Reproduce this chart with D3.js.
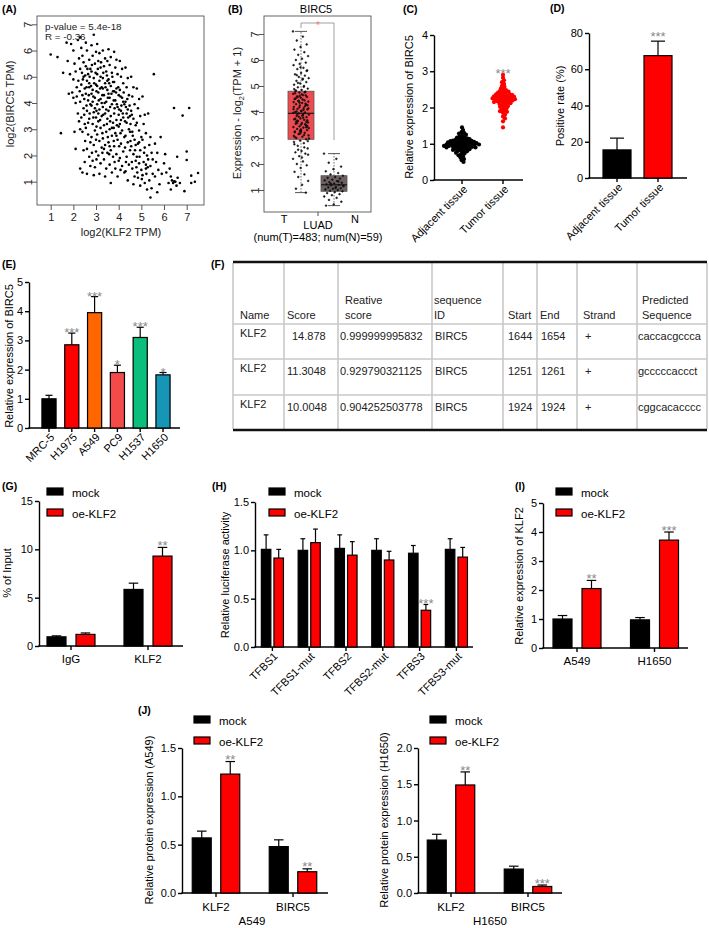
<!DOCTYPE html>
<html>
<head>
<meta charset="utf-8">
<script src="https://cdn.jsdelivr.net/npm/d3@7"></script>
<style>
  body { margin: 0; background: #fff; }
  svg text { font-family: Arial, "Liberation Sans", Helvetica, sans-serif; }
</style>
</head>
<body>
<svg id="fig" width="709" height="928"></svg>
<script>
// ================================
// data
// ================================

// (A) log2(KLF2 TPM) vs log2(BIRC5 TPM)
const aPoints = [
  [1.0,5.85],[1.3,5.75],[1.45,2.85],[1.55,5.15],[1.7,6.3],[1.75,5.6],[1.85,5.1],[1.9,6.25],[1.95,4.4],[1.8,4.35],
  [2.0,6.0],[2.05,5.5],[2.1,5.2],[2.0,4.9],[2.15,4.6],[2.1,4.0],[2.2,3.6],[2.05,2.9],[2.1,2.25],[2.2,6.4],[2.25,5.7],[2.15,4.25],[2.3,1.5],[2.25,3.3],[2.0,4.2],
  [2.3,6.5],[2.35,6.1],[2.4,5.8],[2.3,5.3],[2.45,5.0],[2.35,4.7],[2.4,4.3],[2.3,4.05],[2.45,3.8],[2.35,3.45],[2.5,3.2],[2.4,2.9],[2.45,2.2],[2.5,1.75],[2.4,1.35],[2.5,4.55],[2.45,5.55],[2.3,3.0],
  [2.55,6.3],[2.6,6.0],[2.7,5.65],[2.55,5.4],[2.65,5.1],[2.6,4.85],[2.7,4.6],[2.55,4.35],[2.65,4.1],[2.75,3.95],[2.6,3.7],[2.7,3.4],[2.55,3.05],[2.65,2.8],[2.75,2.5],[2.6,2.25],[2.7,1.95],[2.75,1.6],[2.6,1.3],[2.7,4.75],[2.75,5.3],[2.65,3.25],[2.8,4.35],
  [2.8,6.2],[2.9,6.6],[2.85,5.8],[2.95,5.5],[2.8,5.2],[2.9,4.95],[3.0,4.7],[2.85,4.5],[2.95,4.2],[2.8,3.9],[2.9,3.65],[3.0,3.45],[2.85,3.2],[2.95,2.95],[2.8,2.7],[2.9,2.4],[3.0,2.15],[2.85,1.8],[2.95,1.55],[2.9,1.25],[3.0,5.95],[2.95,3.8],[2.85,4.05],[3.0,2.6],
  [3.05,6.25],[3.15,5.9],[3.1,5.6],[3.2,5.35],[3.05,5.1],[3.15,4.85],[3.25,4.6],[3.1,4.4],[3.2,4.15],[3.05,3.95],[3.15,3.75],[3.25,3.5],[3.1,3.3],[3.2,3.05],[3.05,2.8],[3.15,2.55],[3.25,2.3],[3.1,2.0],[3.2,1.7],[3.15,1.3],[3.25,4.0],[3.05,4.65],[3.2,5.0],[3.1,3.6],
  [3.3,6.0],[3.4,5.7],[3.35,5.4],[3.45,5.2],[3.3,4.95],[3.4,4.75],[3.5,4.5],[3.35,4.3],[3.45,4.05],[3.3,3.85],[3.4,3.6],[3.5,3.4],[3.35,3.15],[3.45,2.9],[3.3,2.65],[3.4,2.4],[3.5,2.1],[3.35,1.85],[3.45,1.5],[3.4,1.2],[3.5,4.85],[3.3,4.55],[3.45,3.75],[3.35,2.25],[3.5,5.6],
  [3.55,6.05],[3.65,5.75],[3.6,5.45],[3.7,5.15],[3.55,4.9],[3.65,4.65],[3.75,4.45],[3.6,4.2],[3.7,3.95],[3.55,3.7],[3.65,3.5],[3.75,3.25],[3.6,3.0],[3.7,2.75],[3.55,2.5],[3.65,2.2],[3.75,1.95],[3.6,1.65],[3.7,1.35],[3.65,0.95],[3.75,4.8],[3.55,4.35],[3.7,3.05],[3.6,2.35],
  [3.8,5.95],[3.9,5.65],[3.85,5.35],[3.95,5.1],[3.8,4.8],[3.9,4.55],[4.0,4.3],[3.85,4.1],[3.95,3.85],[3.8,3.6],[3.9,3.35],[4.0,3.1],[3.85,2.85],[3.95,2.6],[3.8,2.35],[3.9,2.05],[4.0,1.8],[3.85,1.5],[3.95,1.2],[3.8,4.45],[4.0,3.55],[3.9,2.75],
  [4.05,5.6],[4.15,5.3],[4.1,5.0],[4.2,4.75],[4.05,4.5],[4.15,4.2],[4.25,3.95],[4.1,3.7],[4.2,3.45],[4.05,3.2],[4.15,2.95],[4.25,2.7],[4.1,2.45],[4.2,2.15],[4.05,1.9],[4.15,1.6],[4.25,1.35],[4.1,3.35],[4.2,4.05],
  [4.3,5.35],[4.4,4.95],[4.35,4.6],[4.45,4.3],[4.3,4.05],[4.4,3.75],[4.5,3.5],[4.35,3.25],[4.45,3.0],[4.3,2.75],[4.4,2.5],[4.5,2.2],[4.35,1.95],[4.45,1.65],[4.3,1.4],[4.4,1.05],[4.5,2.9],[4.35,3.6],
  [4.55,5.0],[4.65,4.6],[4.6,4.25],[4.7,3.95],[4.55,3.7],[4.65,3.4],[4.75,3.15],[4.6,2.9],[4.7,2.6],[4.55,2.35],[4.65,2.05],[4.75,1.8],[4.6,1.5],[4.7,1.2],[4.65,0.9],[4.75,2.4],
  [4.8,4.55],[4.9,4.15],[4.85,3.8],[4.95,3.5],[4.8,3.25],[4.9,2.95],[5.0,2.7],[4.85,2.45],[4.95,2.2],[4.8,1.95],[4.9,1.7],[5.0,1.45],[4.85,1.15],[4.95,0.85],[4.9,2.5],
  [5.05,4.25],[5.15,3.55],[5.1,3.2],[5.2,2.85],[5.05,2.6],[5.15,2.3],[5.25,2.0],[5.1,1.75],[5.2,1.5],[5.05,1.25],[5.15,0.95],[5.25,0.7],[5.2,1.65],
  [5.3,3.6],[5.4,2.7],[5.35,2.4],[5.45,2.1],[5.3,1.85],[5.4,1.6],[5.5,1.3],[5.35,1.05],[5.45,0.75],[5.4,0.4],[5.5,1.85],
  [5.55,5.1],[5.6,2.45],[5.7,2.1],[5.65,1.75],[5.75,1.45],[5.6,1.2],[5.8,0.9],[5.7,0.6],[5.9,1.3],[5.85,2.7],[6.0,1.7],
  [6.05,2.05],[6.1,1.35],[6.2,0.95],[6.25,1.5],[6.44,3.81],[7.11,3.81],[6.82,3.52],[6.58,1.95],[7.0,2.15],[7.0,1.83],
  [6.3,1.2],[6.35,1.05],[6.4,0.95],[6.45,1.02],[6.5,1.0],[6.55,0.85],[6.7,0.95],[6.3,0.7],[6.9,0.64],[7.2,0.95],[7.36,1.0],[7.5,1.33],[7.2,1.23],[6.6,1.15],
  // denser core
  [2.22,4.85],[2.28,4.45],[2.38,5.15],[2.42,4.9],[2.48,4.15],[2.52,5.05],[2.58,4.6],[2.62,5.3],[2.68,4.3],[2.72,5.0],[2.78,4.65],[2.82,5.45],
  [2.88,4.25],[2.92,4.75],[2.98,5.15],[3.02,4.45],[3.08,5.3],[3.12,4.1],[3.18,4.55],[3.22,5.55],[3.28,4.3],[3.32,5.15],[3.38,4.0],[3.42,4.6],
  [3.48,5.05],[3.52,4.2],[3.58,4.75],[3.62,3.85],[3.68,4.35],[3.72,5.0],[3.78,4.1],[3.82,3.8],[3.88,4.4],[3.92,3.95],[3.98,4.6],[4.02,3.75],
  [4.08,4.25],[4.12,3.9],[4.18,3.6],[4.22,4.4],[4.28,3.3],[4.32,3.85],[4.38,4.15],[4.42,3.45],[4.48,3.9],[4.52,3.2],[4.58,3.55],[4.62,2.75],
  [2.48,3.55],[2.58,3.9],[2.72,3.6],[2.88,3.45],[3.02,3.7],[3.18,3.35],[3.32,3.55],[3.48,3.2],[3.62,3.3],[3.78,3.05],[3.92,3.15],[4.08,2.85],
  [3.02,3.1],[3.28,2.85],[3.52,2.7],[3.78,2.55],[4.02,2.35],[4.28,2.3],[4.52,2.55],[4.72,2.2],[4.92,1.95],[5.12,2.1],[5.28,1.55],[4.82,1.35],
  [3.58,2.05],[3.82,1.75],[4.08,1.45],[4.32,1.75],[4.58,1.75],[4.78,1.55],[5.02,1.1],[5.22,1.3],[3.28,2.1],[3.02,1.85],[2.82,2.1],[2.52,2.55]
];

// (B) GEPIA box plot: T (n=483) and N (n=59)
const bGroups = ["T", "N"];
const bBoxes = { T: [0.9, 2.95, 3.95, 4.8, 7.1], N: [0.4, 0.95, 1.2, 1.55, 2.4] }; // min, q1, median, q3, max
const bDotsT = [7.1,6.9,6.75,6.6,6.5,6.4,6.3,6.2,6.15,6.05,6.0,5.9,5.85,5.8,5.7,5.65,5.6,5.5,5.45,5.4,5.35,5.3,5.25,5.2,5.15,5.1,5.05,5.0,4.95,4.9,
  4.85,4.8,4.78,4.75,4.7,4.65,4.6,4.58,4.55,4.5,4.45,4.42,4.4,4.35,4.3,4.28,4.25,4.2,4.15,4.12,4.1,4.05,4.0,3.98,3.95,3.9,3.88,3.85,3.8,3.75,
  3.72,3.7,3.65,3.6,3.58,3.55,3.5,3.45,3.42,3.4,3.35,3.3,3.28,3.25,3.2,3.15,3.1,3.05,3.0,2.95,2.9,2.85,2.8,2.7,2.6,2.5,2.45,2.4,2.3,2.2,
  2.1,2.0,1.95,1.85,1.7,1.6,1.5,1.35,1.2,1.05,0.9,4.62,4.38,4.08,3.92,3.68,3.52,4.72,4.22,3.82,3.38,4.48,4.02,3.62,3.18,4.88,3.12,5.12,2.88,
  4.68,4.52,4.32,4.18,3.97,3.78,3.57,3.47,3.33,3.22,4.76,4.43,4.14,3.86,3.63,3.41,3.27,3.08,4.97,4.57,4.26,4.03,3.74,3.53,3.16,2.98,
  5.28,5.42,5.58,5.72,2.76,2.64,2.55,2.36,2.25,4.83,4.64,4.36,4.11,3.93,3.67,3.44,3.24,3.03];
const bDotsN = [2.4,2.2,2.05,1.9,1.8,1.72,1.65,1.6,1.55,1.5,1.47,1.44,1.4,1.37,1.34,1.3,1.28,1.25,1.22,1.2,1.18,1.15,1.12,1.1,1.07,1.05,1.02,1.0,
  0.97,0.95,0.92,0.88,0.84,0.8,0.75,0.7,0.62,0.55,0.45,0.4,1.33,1.24,1.16,1.08];

// (C) relative expression of BIRC5, tissues
const cCats = ["Adjacent tissue", "Tumor tissue"];
const cAdjacent = [1.45,1.38,1.32,1.3,1.28,1.25,1.22,1.2,1.18,1.17,1.15,1.14,1.12,1.11,1.1,1.09,1.08,1.07,1.06,1.05,1.05,1.04,1.03,1.02,1.02,
  1.01,1.0,1.0,0.99,0.99,0.98,0.97,0.97,0.96,0.95,0.95,0.94,0.93,0.92,0.92,0.91,0.9,0.89,0.88,0.87,0.86,0.85,0.84,0.83,0.82,0.8,0.79,0.77,
  0.75,0.73,0.7,0.68,0.65,0.62,0.58,0.55,0.5,1.13,1.07,1.03,0.98,0.94,0.9];
const cTumor = [2.9,2.82,2.75,2.7,2.65,2.6,2.57,2.53,2.5,2.48,2.46,2.44,2.42,2.4,2.38,2.37,2.35,2.34,2.32,2.31,2.3,2.29,2.28,2.27,2.26,2.25,
  2.24,2.23,2.22,2.21,2.2,2.19,2.18,2.17,2.16,2.15,2.13,2.12,2.1,2.08,2.06,2.04,2.02,2.0,1.98,1.95,1.92,1.9,1.88,1.85,1.8,1.75,1.7,1.62,1.45,
  2.33,2.27,2.22,2.14,2.36,2.41];

// (D) positive rate
const dCats = ["Adjacent tissue", "Tumor tissue"];
const dValues = [15.5, 67.5];
const dErrors = [6.5, 8];
const dStars = ["", "***"];

// (E) cell lines
const eCats = ["MRC-5", "H1975", "A549", "PC9", "H1537", "H1650"];
const eValues = [1.0, 2.85, 3.95, 1.9, 3.1, 1.82];
const eErrors = [0.12, 0.4, 0.55, 0.25, 0.35, 0.08];
const eStars = ["", "***", "***", "*", "***", "*"];
const eColors = ["#000000", "#ff0000", "#ff6600", "#f44a4a", "#0abf7b", "#1795b6"];

// (F) predicted binding sites
const fHeader = [["Name"], ["Score"], ["Reative", "score"], ["sequence", "ID"], ["Start"], ["End"], ["Strand"], ["Predicted", "Sequence"]];
const fRows = [
  ["KLF2", "14.878", "0.999999995832", "BIRC5", "1644", "1654", "+", "caccacgccca"],
  ["KLF2", "11.3048", "0.929790321125", "BIRC5", "1251", "1261", "+", "gcccccaccct"],
  ["KLF2", "10.0048", "0.904252503778", "BIRC5", "1924", "1924", "+", "cggcacacccc"]
];

// shared legend
const seriesNames = ["mock", "oe-KLF2"];

// (G) ChIP
const gGroups = ["IgG", "KLF2"];
const gMock = [0.95, 5.85], gMockErr = [0.1, 0.65];
const gOe = [1.2, 9.3], gOeErr = [0.15, 0.9];
const gOeStars = ["", "**"];

// (H) luciferase
const hGroups = ["TFBS1", "TFBS1-mut", "TFBS2", "TFBS2-mut", "TFBS3", "TFBS3-mut"];
const hMock = [1.01, 1.0, 1.02, 1.0, 0.97, 1.01], hMockErr = [0.15, 0.12, 0.14, 0.12, 0.08, 0.11];
const hOe = [0.92, 1.08, 0.95, 0.9, 0.38, 0.93], hOeErr = [0.09, 0.14, 0.14, 0.09, 0.06, 0.1];
const hOeStars = ["", "", "", "", "***", ""];

// (I) KLF2 expression
const iGroups = ["A549", "H1650"];
const iMock = [1.0, 0.97], iMockErr = [0.12, 0.08];
const iOe = [2.05, 3.72], iOeErr = [0.28, 0.28];
const iOeStars = ["**", "***"];

// (J) protein expression
const jGroups = ["KLF2", "BIRC5"];
const jA549Mock = [0.57, 0.48], jA549MockErr = [0.07, 0.07];
const jA549Oe = [1.23, 0.22], jA549OeErr = [0.13, 0.03];
const jA549Stars = ["**", "**"];
const jH1650Mock = [0.73, 0.33], jH1650MockErr = [0.08, 0.04];
const jH1650Oe = [1.49, 0.09], jH1650OeErr = [0.18, 0.02];
const jH1650Stars = ["**", "***"];

// ================================
// helpers
// ================================
const svg = d3.select("#fig");
svg.append("rect").attr("width", 709).attr("height", 928).attr("fill", "#fff");

const STAR = "#8a8a8a";
const FS = 11;

function panelLabel(t, x, y) {
  svg.append("text").attr("x", x).attr("y", y).attr("font-size", 10.5)
    .attr("font-weight", "bold").text(t);
}

function yTitle(t, x, y, size) {
  return svg.append("text").attr("transform", `translate(${x},${y}) rotate(-90)`)
    .attr("text-anchor", "middle").attr("font-size", size || FS).text(t);
}

// Prism-like y axis + baseline
function prismAxes(yS, x0, x1, ticks, fmt) {
  const g = svg.append("g");
  const ax = g.append("g").attr("transform", `translate(${x0},0)`)
    .call(d3.axisLeft(yS).tickValues(ticks).tickFormat(fmt).tickSize(4).tickSizeOuter(0));
  ax.select(".domain").attr("stroke", "#000").attr("stroke-width", 1.4);
  ax.selectAll(".tick line").attr("stroke", "#000").attr("stroke-width", 1.4);
  ax.selectAll(".tick text").attr("font-size", FS).attr("fill", "#000").attr("x", -6);
  g.append("line").attr("x1", x0 - 0.7).attr("x2", x1).attr("y1", yS(0)).attr("y2", yS(0))
    .attr("stroke", "#000").attr("stroke-width", 1.4);
  return g;
}

function xTicks(xs, y0) {
  svg.append("g").selectAll("line").data(xs).join("line")
    .attr("x1", d => d).attr("x2", d => d).attr("y1", y0).attr("y2", y0 + 4)
    .attr("stroke", "#000").attr("stroke-width", 1.4);
}

function rotLabels(cats, xf, y0) {
  svg.append("g").selectAll("text").data(cats).join("text")
    .attr("transform", d => `translate(${xf(d) + 6},${y0 + 10}) rotate(-45)`)
    .attr("text-anchor", "end").attr("font-size", FS).text(d => d);
}

// bars: {x, w, v, e, fill, star}
function bars(items, yS, starGap) {
  const g = svg.append("g");
  const gap = starGap === undefined ? 3 : starGap;
  g.selectAll("line.err").data(items).join("line").attr("class", "err")
    .attr("x1", d => d.x).attr("x2", d => d.x)
    .attr("y1", d => yS(d.v)).attr("y2", d => yS(d.v + d.e))
    .attr("stroke", "#000").attr("stroke-width", 1.2);
  g.selectAll("line.cap").data(items).join("line").attr("class", "cap")
    .attr("x1", d => d.x - d.w / 4).attr("x2", d => d.x + d.w / 4)
    .attr("y1", d => yS(d.v + d.e)).attr("y2", d => yS(d.v + d.e))
    .attr("stroke", "#000").attr("stroke-width", 1.2);
  g.selectAll("rect").data(items).join("rect")
    .attr("x", d => d.x - d.w / 2).attr("width", d => d.w)
    .attr("y", d => yS(d.v)).attr("height", d => yS(0) - yS(d.v))
    .attr("fill", d => d.fill).attr("stroke", "#000").attr("stroke-width", 1.2);
  g.selectAll("text").data(items.filter(d => d.star)).join("text")
    .attr("x", d => d.x).attr("y", d => yS(d.v + d.e) - gap + 5.9)
    .attr("text-anchor", "middle").attr("font-size", 13).attr("fill", STAR)
    .text(d => d.star);
}

function legend(x, y) {
  const g = svg.append("g").attr("transform", `translate(${x},${y})`);
  g.selectAll("rect").data(seriesNames).join("rect")
    .attr("x", 0).attr("y", (d, i) => i * 21).attr("width", 16).attr("height", 7)
    .attr("fill", (d, i) => i ? "#ff0000" : "#000").attr("stroke", "#000").attr("stroke-width", 1.2);
  g.selectAll("text").data(seriesNames).join("text")
    .attr("x", 25).attr("y", (d, i) => i * 21 + 8.5).attr("font-size", 11.5).text(d => d);
}

// grouped mock / oe-KLF2 chart
function grouped(cfg) {
  const xG = d3.scalePoint().domain(cfg.groups).range(cfg.range);
  const sub = d3.scaleBand().domain(seriesNames).range([-cfg.gap, cfg.gap])
    .paddingInner(1 - cfg.barW / cfg.gap).paddingOuter((1 - cfg.barW / cfg.gap) / 2);
  const items = [];
  cfg.groups.forEach((gname, i) => {
    items.push({ x: xG(gname) + sub("mock") + sub.bandwidth() / 2, w: cfg.barW, v: cfg.mock[i], e: cfg.mockErr[i], fill: "#000", star: "" });
    items.push({ x: xG(gname) + sub("oe-KLF2") + sub.bandwidth() / 2, w: cfg.barW, v: cfg.oe[i], e: cfg.oeErr[i], fill: "#ff0000", star: cfg.stars[i] });
  });
  prismAxes(cfg.y, cfg.x0, cfg.x1, cfg.ticks, cfg.fmt);
  xTicks(cfg.groups.map(xG), cfg.y(0));
  bars(items, cfg.y, cfg.starGap);
  return xG;
}

// simple beeswarm (deterministic)
function swarm(vals, yS, d) {
  const placed = [];
  const pts = vals.map(v => ({ v, y: yS(v) })).sort((a, b) => a.y - b.y);
  pts.forEach(p => {
    let off = 0;
    for (let k = 0; k < 80; k++) {
      const c = (k % 2 ? 1 : -1) * Math.ceil(k / 2) * 0.5;
      if (placed.every(q => (q.x - c) ** 2 + (q.y - p.y) ** 2 >= d * d)) { off = c; break; }
    }
    p.x = off;
    placed.push(p);
  });
  return pts;
}

// R-style framed axes (rotated y tick labels)
function rFrame(xS, yS, box, yTickShift) {
  svg.append("rect").attr("x", box[0]).attr("y", box[1]).attr("width", box[2] - box[0]).attr("height", box[3] - box[1])
    .attr("fill", "none").attr("stroke", "#555").attr("stroke-width", 0.9);
  if (xS) {
    const ax = svg.append("g").attr("transform", `translate(0,${box[3]})`)
      .call(d3.axisBottom(xS).tickValues(d3.range(1, 8)).tickFormat(d3.format("d")).tickSize(5).tickSizeOuter(0));
    ax.select(".domain").remove();
    ax.selectAll(".tick line").attr("stroke", "#555");
    ax.selectAll(".tick text").attr("font-size", FS).attr("fill", "#222").attr("y", 8);
  }
  const ay = svg.append("g").attr("transform", `translate(${box[0]},0)`)
    .call(d3.axisLeft(yS).tickValues(d3.range(1, 8)).tickFormat(d3.format("d")).tickSize(5).tickSizeOuter(0));
  ay.select(".domain").remove();
  ay.selectAll(".tick line").attr("stroke", "#555");
  ay.selectAll(".tick text").attr("font-size", FS).attr("fill", "#222")
    .attr("x", 0).attr("dy", null).attr("text-anchor", "middle")
    .attr("transform", `translate(${yTickShift},0) rotate(-90)`);
}

// ================================
// (A) scatter
// ================================
panelLabel("(A)", 2, 13);
const aX = d3.scaleLinear().domain([1, 7]).range([50.7, 186.7]);
const aY = d3.scaleLinear().domain([1, 7]).range([181.7, 24.3]);
rFrame(aX, aY, [37, 16, 204, 205], -5);
svg.append("g").selectAll("circle").data(aPoints).join("circle")
  .attr("cx", d => aX(d[0])).attr("cy", d => aY(d[1])).attr("r", 1.3).attr("fill", "#000");
svg.append("text").attr("x", 45).attr("y", 30).attr("font-size", 9.8).attr("fill", "#222").text("p-value = 5.4e-18");
svg.append("text").attr("x", 45).attr("y", 40).attr("font-size", 9.8).attr("fill", "#222").text("R = -0.36");
svg.append("text").attr("x", 121).attr("y", 236).attr("text-anchor", "middle").attr("font-size", FS).attr("fill", "#222").text("log2(KLF2 TPM)");
yTitle("log2(BIRC5 TPM)", 14, 104).attr("fill", "#222");

// ================================
// (B) box plot
// ================================
panelLabel("(B)", 228, 13);
svg.append("text").attr("x", 316).attr("y", 13).attr("text-anchor", "middle").attr("font-size", FS).text("BIRC5");
const bY = d3.scaleLinear().domain([1, 7]).range([190, 34]);
const bX = d3.scalePoint().domain(bGroups).range([301, 334]);
rFrame(null, bY, [264, 16, 371, 212], -5.5);
const bt = svg.append("text").attr("transform", "translate(241,113) rotate(-90)")
  .attr("text-anchor", "middle").attr("font-size", FS).attr("fill", "#222");
bt.append("tspan").text("Expression - log");
bt.append("tspan").attr("font-size", 7.5).attr("dy", 3).text("2");
bt.append("tspan").attr("dy", -3).text("(TPM + 1)");
const bw = 26;
bGroups.forEach(k => {
  const s = bBoxes[k], cx = bX(k);
  svg.append("line").attr("x1", cx).attr("x2", cx).attr("y1", bY(s[0])).attr("y2", bY(s[4]))
    .attr("stroke", "#444").attr("stroke-width", 0.8).attr("stroke-dasharray", "1.5,1.5");
  [s[0], s[4]].forEach(v => svg.append("line").attr("x1", cx - 6).attr("x2", cx + 6)
    .attr("y1", bY(v)).attr("y2", bY(v)).attr("stroke", "#444").attr("stroke-width", 0.9));
  svg.append("rect").attr("x", cx - bw / 2).attr("width", bw).attr("y", bY(s[3])).attr("height", bY(s[1]) - bY(s[3]))
    .attr("fill", k === "T" ? "#ee4b51" : "#6d6163").attr("stroke", "#555").attr("stroke-width", 0.8);
});
// jittered samples
const golden = 0.6180339;
[["T", bDotsT, 16], ["N", bDotsN, 20]].forEach(([k, vals, spread]) => {
  svg.append("g").selectAll("circle").data(vals).join("circle")
    .attr("cx", (d, i) => bX(k) + (((i * golden) % 1) - 0.5) * spread)
    .attr("cy", d => bY(d)).attr("r", 0.9)
    .attr("fill", "#222").attr("stroke", "#000").attr("stroke-width", 0.5);
});
bGroups.forEach(k => {
  const s = bBoxes[k], cx = bX(k);
  svg.append("line").attr("x1", cx - bw / 2).attr("x2", cx + bw / 2).attr("y1", bY(s[2])).attr("y2", bY(s[2]))
    .attr("stroke", "#111").attr("stroke-width", 1.1);
});
svg.append("path").attr("d", `M${bX("T")},28V23H${bX("N")}V140`)
  .attr("fill", "none").attr("stroke", "#888").attr("stroke-width", 0.8);
svg.append("text").attr("x", 318).attr("y", 29).attr("text-anchor", "middle").attr("font-size", 10).attr("fill", "#f07a7a").text("*");
svg.append("line").attr("x1", 318).attr("x2", 318).attr("y1", 212).attr("y2", 216).attr("stroke", "#555");
svg.append("text").attr("x", 284).attr("y", 223).attr("text-anchor", "middle").attr("font-size", FS).text("T");
svg.append("text").attr("x", 355).attr("y", 223).attr("text-anchor", "middle").attr("font-size", FS).text("N");
svg.append("text").attr("x", 318).attr("y", 229).attr("text-anchor", "middle").attr("font-size", FS).text("LUAD");
svg.append("text").attr("x", 318).attr("y", 241).attr("text-anchor", "middle").attr("font-size", FS).text("(num(T)=483; num(N)=59)");

// ================================
// (C) dot plot
// ================================
panelLabel("(C)", 403, 13);
const cY = d3.scaleLinear().domain([0, 4]).range([180, 35]);
const cX = d3.scalePoint().domain(cCats).range([462, 503]);
prismAxes(cY, 434, 523, [0, 1, 2, 3, 4], d3.format("d"));
xTicks(cCats.map(cX), cY(0));
[[cCats[0], cAdjacent, "#000"], [cCats[1], cTumor, "#ff0000"]].forEach(([cat, vals, col]) => {
  svg.append("g").selectAll("circle").data(swarm(vals, cY, 2.6)).join("circle")
    .attr("cx", d => cX(cat) + d.x).attr("cy", d => d.y).attr("r", 2.1).attr("fill", col);
});
svg.append("text").attr("x", cX(cCats[1])).attr("y", cY(d3.max(cTumor)) - 3 + 5.9)
  .attr("text-anchor", "middle").attr("font-size", 13).attr("fill", STAR).text("***");
rotLabels(cCats, cX, cY(0));
yTitle("Relative expression of BIRC5", 413, 107);

// ================================
// (D) bar
// ================================
panelLabel("(D)", 550, 12);
const dY = d3.scaleLinear().domain([0, 80]).range([178, 33]);
const dX = d3.scalePoint().domain(dCats).range([617, 658]);
prismAxes(dY, 589, 687, [0, 20, 40, 60, 80], d3.format("d"));
xTicks(dCats.map(dX), dY(0));
bars(dCats.map((c, i) => ({ x: dX(c), w: 28, v: dValues[i], e: dErrors[i], fill: i ? "#ff0000" : "#000", star: dStars[i] })), dY, 6);
rotLabels(dCats, dX, dY(0));
yTitle("Positive rate (%)", 564, 106);

// ================================
// (E) cell lines
// ================================
panelLabel("(E)", 2, 268);
const eY = d3.scaleLinear().domain([0, 5]).range([428, 282]);
const eX = d3.scaleBand().domain(eCats).range([37.6, 174.4]).paddingInner(0.38).paddingOuter(0.19);
prismAxes(eY, 29, 180, [0, 1, 2, 3, 4, 5], d3.format("d"));
const eC = c => eX(c) + eX.bandwidth() / 2;
xTicks(eCats.map(eC), eY(0));
bars(eCats.map((c, i) => ({ x: eC(c), w: eX.bandwidth(), v: eValues[i], e: eErrors[i], fill: eColors[i], star: eStars[i] })), eY, 1.7);
rotLabels(eCats, eC, eY(0));
yTitle("Relative expression of BIRC5", 13, 356);

// ================================
// (F) table
// ================================
panelLabel("(F)", 211, 268);
const colEdges = [233, 284, 338, 432, 503, 537, 577, 637, 707];
const rowEdges = [262, 324, 359, 395, 430];
const colTextX = [240, 287, 345, 434, 508, 540, 583, 642];
const rowTextX = [240, 292, 340, 435, 508, 541, 585, 638];
const tg = svg.append("g");
tg.selectAll("line.v").data(colEdges).join("line").attr("class", "v")
  .attr("x1", d => d).attr("x2", d => d).attr("y1", 263).attr("y2", 429)
  .attr("stroke", "#c9c9c9").attr("stroke-width", 1.6);
tg.selectAll("line.h").data(rowEdges.slice(1, 4)).join("line").attr("class", "h")
  .attr("x1", 233).attr("x2", 707).attr("y1", d => d).attr("y2", d => d)
  .attr("stroke", "#c9c9c9").attr("stroke-width", 1.6);
[262, 430].forEach(y => tg.append("line").attr("x1", 233).attr("x2", 707).attr("y1", y).attr("y2", y)
  .attr("stroke", "#111").attr("stroke-width", 2.4));
fHeader.forEach((lines, ci) => {
  lines.forEach((t, li) => {
    tg.append("text").attr("x", colTextX[ci]).attr("y", lines.length === 2 ? 304 + li * 15 : 319)
      .attr("font-size", FS).attr("fill", "#222").text(t);
  });
});
fRows.forEach((row, ri) => {
  row.forEach((t, ci) => {
    const base = rowEdges[ri + 1] + (ci === 0 ? 13 : 15.5);
    let x = rowTextX[ci];
    if (ci === 1 && t.length > 6) x = 287;
    tg.append("text").attr("x", x).attr("y", base).attr("font-size", FS).attr("fill", "#222").text(t);
  });
});

// ================================
// (G) ChIP
// ================================
panelLabel("(G)", 2, 490);
legend(47, 488);
const gY = d3.scaleLinear().domain([0, 15]).range([646, 501]);
const gX = grouped({ groups: gGroups, range: [71, 148], gap: 29, barW: 19, mock: gMock, mockErr: gMockErr,
  oe: gOe, oeErr: gOeErr, stars: gOeStars, y: gY, x0: 39, x1: 183, ticks: [0, 5, 10, 15], fmt: d3.format("d"), starGap: 3 });
svg.append("g").selectAll("text").data(gGroups).join("text")
  .attr("x", d => gX(d)).attr("y", 663).attr("text-anchor", "middle").attr("font-size", 11.5).text(d => d);
yTitle("% of Input", 11, 573);

// ================================
// (H) luciferase
// ================================
panelLabel("(H)", 212, 490);
legend(269, 488);
const hY = d3.scaleLinear().domain([0, 1.5]).range([647, 502]);
const hX = grouped({ groups: hGroups, range: [272.4, 456.4], gap: 12.6, barW: 9.5, mock: hMock, mockErr: hMockErr,
  oe: hOe, oeErr: hOeErr, stars: hOeStars, y: hY, x0: 255, x1: 473, ticks: [0, 0.5, 1, 1.5], fmt: d3.format(".1f"), starGap: 2.5 });
rotLabels(hGroups, hX, hY(0));
yTitle("Relative luciferase activity", 229, 575);

// ================================
// (I) KLF2 expression
// ================================
panelLabel("(I)", 515, 490);
legend(556, 488);
const iY = d3.scaleLinear().domain([0, 5]).range([648, 503]);
const iX = grouped({ groups: iGroups, range: [577, 654.5], gap: 29, barW: 19, mock: iMock, mockErr: iMockErr,
  oe: iOe, oeErr: iOeErr, stars: iOeStars, y: iY, x0: 543, x1: 688, ticks: [0, 1, 2, 3, 4, 5], fmt: d3.format("d"), starGap: 3 });
svg.append("g").selectAll("text").data(iGroups).join("text")
  .attr("x", d => iX(d)).attr("y", 665).attr("text-anchor", "middle").attr("font-size", 11.5).text(d => d);
yTitle("Relative expression of KLF2", 523, 576);

// ================================
// (J) protein expression
// ================================
panelLabel("(J)", 138, 714);
legend(194, 716);
const jY1 = d3.scaleLinear().domain([0, 1.5]).range([893, 748]);
const jX1 = grouped({ groups: jGroups, range: [216, 293], gap: 28.5, barW: 19, mock: jA549Mock, mockErr: jA549MockErr,
  oe: jA549Oe, oeErr: jA549OeErr, stars: jA549Stars, y: jY1, x0: 182, x1: 328, ticks: [0, 0.5, 1, 1.5], fmt: d3.format(".1f"), starGap: 3.5 });
svg.append("g").selectAll("text").data(jGroups).join("text")
  .attr("x", d => jX1(d)).attr("y", 911).attr("text-anchor", "middle").attr("font-size", 11.5).text(d => d);
svg.append("text").attr("x", 252).attr("y", 925).attr("text-anchor", "middle").attr("font-size", 11.5).text("A549");
yTitle("Relative protein expression (A549)", 153, 820);

legend(430, 716);
const jY2 = d3.scaleLinear().domain([0, 2]).range([893, 748]);
const jX2 = grouped({ groups: jGroups, range: [451, 528], gap: 28.5, barW: 19, mock: jH1650Mock, mockErr: jH1650MockErr,
  oe: jH1650Oe, oeErr: jH1650OeErr, stars: jH1650Stars, y: jY2, x0: 418, x1: 562, ticks: [0, 0.5, 1, 1.5, 2], fmt: d3.format(".1f"), starGap: 3 });
svg.append("g").selectAll("text").data(jGroups).join("text")
  .attr("x", d => jX2(d)).attr("y", 911).attr("text-anchor", "middle").attr("font-size", 11.5).text(d => d);
svg.append("text").attr("x", 490).attr("y", 925).attr("text-anchor", "middle").attr("font-size", 11.5).text("H1650");
yTitle("Relative protein expression (H1650)", 388, 820);
</script>
</body>
</html>
